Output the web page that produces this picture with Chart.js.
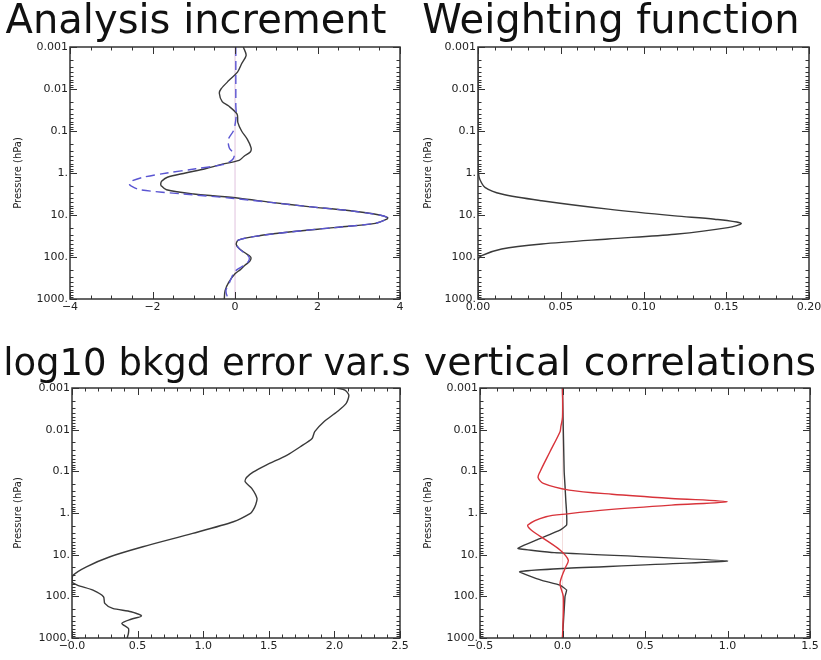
<!DOCTYPE html>
<html>
<head>
<meta charset="utf-8">
<script src="https://cdn.jsdelivr.net/npm/chart.js@4.4.1/dist/chart.umd.min.js"></script>
<style>
    body { margin: 0; background: #ffffff; width: 821px; height: 660px; overflow: hidden; position: relative; }
    .panel { position: absolute; }
</style>
</head>
<body>
<div class="panel" style="left:0px;top:0px"><canvas id="cIncremento" width="412" height="320"></canvas></div>
<div class="panel" style="left:410px;top:0px"><canvas id="cPeso" width="411" height="320"></canvas></div>
<div class="panel" style="left:0px;top:341px"><canvas id="cError" width="414" height="319"></canvas></div>
<div class="panel" style="left:410px;top:341px"><canvas id="cCorrelacion" width="411" height="319"></canvas></div>
<script>
// Eje de presion (comun a los 4 paneles)
const yTicks = [0.001, 0.01, 0.1, 1, 10, 100, 1000];
const yTickLabels = ['0.001', '0.01', '0.1', '1.', '10.', '100.', '1000.'];

// Panel 1: Analysis increment
const incPresion = [0.001, 0.00158, 0.00251, 0.00398, 0.00631, 0.01, 0.0126, 0.02, 0.0251, 0.0398,
    0.0631, 0.1, 0.158, 0.251, 0.316, 0.398, 0.501, 0.631, 0.794, 1,
    1.26, 1.58, 1.82, 2.0, 2.51, 3.16, 3.98, 5.01, 6.31, 7.94,
    10, 11.5, 12.6, 15.8, 20, 25.1, 31.6, 39.8, 50.1, 63.1,
    79.4, 100, 126, 158, 200, 251, 398, 631, 1000];
const incSolida = [0.20, 0.27, 0.16, 0.06, -0.15, -0.34, -0.38, -0.31, -0.16, 0.05,
    0.07, 0.16, 0.30, 0.39, 0.37, 0.22, 0.10, -0.35, -0.72, -1.20,
    -1.64, -1.78, -1.80, -1.79, -1.66, -1.00, 0.10, 0.88, 1.78, 2.80,
    3.50, 3.70, 3.68, 3.40, 2.39, 1.37, 0.55, 0.08, 0.03, 0.10,
    0.24, 0.38, 0.36, 0.24, 0.13, 0.00, -0.15, -0.24, -0.26];
const incDiscontinua = [0.02, 0.02, 0.02, 0.02, 0.02, 0.02, 0.02, 0.02, 0.02, 0.03,
    0.01, -0.04, -0.16, -0.14, -0.06, -0.02, -0.08, -0.30, -0.95, -1.65,
    -2.22, -2.52, -2.56, -2.53, -2.30, -1.25, -0.08, 0.85, 1.78, 2.80,
    3.50, 3.70, 3.68, 3.40, 2.39, 1.37, 0.55, 0.08, 0.04, 0.10,
    0.22, 0.34, 0.33, 0.22, 0.05, -0.04, -0.13, -0.22, -0.17];
const incXTicks = [-4, -2, 0, 2, 4];
const incXLabels = ['\u22124', '\u22122', '0', '2', '4'];

// Panel 2: Weighting function
const pesoPresion = [0.001, 0.631, 1, 1.38, 2.19, 3.16, 4.57, 7.24, 10.5, 12.6,
    15.8, 20, 28.8, 37.2, 49, 64.6, 93.3, 123, 1000];
const pesoValores = [0, 0, 0.0003, 0.001, 0.0042, 0.0143, 0.0385, 0.0787, 0.119, 0.143,
    0.159, 0.151, 0.119, 0.0787, 0.0385, 0.0143, 0.0022, 0, 0];
const pesoXTicks = [0, 0.05, 0.10, 0.15, 0.20];
const pesoXLabels = ['0.00', '0.05', '0.10', '0.15', '0.20'];

// Panel 3: log10 bkgd error var.s
const errPresion = [0.001, 0.00112, 0.00148, 0.00234, 0.00372, 0.00646, 0.0112, 0.0162, 0.0257, 0.0407,
    0.0708, 0.105, 0.141, 0.178, 0.257, 0.447, 0.631, 0.851, 1.02, 1.62,
    3.09, 6.46, 11.2, 19.5, 30.9, 44.7, 53.7, 70.8, 102, 148,
    195, 234, 295, 355, 447, 589, 776, 1000];
const errValores = [2.02, 2.08, 2.11, 2.09, 2.02, 1.92, 1.85, 1.83, 1.74, 1.64,
    1.48, 1.38, 1.33, 1.32, 1.37, 1.41, 1.40, 1.38, 1.36, 1.23,
    0.92, 0.54, 0.29, 0.11, 0.01, 0.00, 0.04, 0.16, 0.24, 0.25,
    0.31, 0.45, 0.53, 0.45, 0.38, 0.43, 0.43, 0.42];
const errXTicks = [0, 0.5, 1.0, 1.5, 2.0, 2.5];
const errXLabels = ['\u22120.0', '0.5', '1.0', '1.5', '2.0', '2.5'];

// Panel 4: vertical correlations
const corrNegroPresion = [0.001, 0.1, 0.214, 0.5, 1.0, 1.95, 2.57, 4.47, 7.08, 8.91,
    14.1, 21.4, 25.7, 40.7, 53.7, 70.8, 102, 1000];
const corrNegro = [0.0, 0.01, 0.015, 0.02, 0.025, 0.025, -0.015, -0.16, -0.27, -0.05,
    1.0, 0.0, -0.26, -0.13, -0.015, 0.025, 0.015, 0.0];
const corrRojoPresion = [0.001, 0.005, 0.0085, 0.0112, 0.0339, 0.102, 0.141, 0.195, 0.282, 0.355,
    0.447, 0.537, 0.646, 0.832, 1.05, 1.23, 1.95, 2.57, 4.47, 7.76,
    13.5, 21.4, 49, 102, 1000];
const corrRojo = [0.0, 0.0, -0.01, -0.015, -0.076, -0.136, -0.148, -0.116, 0.04, 0.30,
    0.66, 1.0, 0.66, 0.28, 0.03, -0.10, -0.21, -0.19, -0.10, -0.015,
    0.035, 0.015, -0.015, 0.005, 0.0];
const corrXTicks = [-0.5, 0.0, 0.5, 1.0, 1.5];
const corrXLabels = ['\u22120.5', '0.0', '0.5', '1.0', '1.5'];

const lineaCero = [0, 0];
const presionExtremos = [0.001, 1000];

Chart.defaults.font.family = "'DejaVu Sans', sans-serif";
Chart.defaults.color = '#222';

// Marco y marcas de estilo IDL (hacia dentro, en los 4 lados)
const marcoIDL = {
    id: 'marcoIDL',
    defaults: { mayor: 1, menor: 0.5 },
    afterDatasetsDraw(chart, args, opts) {
        const { ctx, chartArea: a, scales: { x, y } } = chart;
        ctx.save();
        ctx.strokeStyle = '#333';
        ctx.lineWidth = 1;
        ctx.beginPath();
        const n = Math.round((x.max - x.min) / opts.menor);
        for (let i = 0; i <= n; i++) {
            const v = x.min + i * opts.menor;
            const px = Math.round(x.getPixelForValue(v)) + 0.5;
            const r = v / opts.mayor;
            const largo = Math.abs(r - Math.round(r)) < 1e-6 ? 7 : 3.5;
            ctx.moveTo(px, a.bottom); ctx.lineTo(px, a.bottom - largo);
            ctx.moveTo(px, a.top); ctx.lineTo(px, a.top + largo);
        }
        yTicks.forEach((dec, k) => {
            for (let m = 1; m <= 9; m++) {
                if (k === yTicks.length - 1 && m > 1) break;
                const py = Math.round(y.getPixelForValue(dec * m)) + 0.5;
                const largo = m === 1 ? 7 : 3.5;
                ctx.moveTo(a.left, py); ctx.lineTo(a.left + largo, py);
                ctx.moveTo(a.right, py); ctx.lineTo(a.right - largo, py);
            }
        });
        ctx.stroke();
        ctx.lineWidth = 1.5;
        ctx.strokeRect(a.left, a.top, a.right - a.left, a.bottom - a.top);
        ctx.restore();
    }
};

function serie(presion, valores, color, extra = {}) {
    return Object.assign({
        data: presion.map((p, i) => ({ x: valores[i], y: p })),
        showLine: true,
        borderColor: color,
        borderWidth: 1.4,
        pointRadius: 0,
        tension: 0.3,
        fill: false
    }, extra);
}

// izq: padding izquierdo del layout (mueve el centro del titulo); bordeIzq: x del area de datos
// ejeDerecho: eje vacio a la derecha para que el titulo pueda pasar del borde del grafico
function crearPanel(canvasId, cfg) {
    const ctx = document.getElementById(canvasId).getContext('2d');
    const escalas = {
        x: {
            type: 'linear',
            min: cfg.xMin,
            max: cfg.xMax,
            grid: { display: false, drawTicks: false },
            border: { display: false },
            afterBuildTicks: s => { s.ticks = cfg.xTicks.map(v => ({ value: v })); },
            afterFit: s => { s.height = cfg.altoX; s.paddingLeft = 0; s.paddingRight = 0; },
            ticks: {
                callback: (v, i) => cfg.xLabels[i],
                padding: 2,
                maxRotation: 0,
                autoSkip: false,
                font: { size: 11 }
            }
        },
        y: {
            type: 'logarithmic',
            reverse: true,
            min: 0.001,
            max: 1000,
            grid: { display: false, drawTicks: false },
            border: { display: false },
            afterBuildTicks: s => { s.ticks = yTicks.map(v => ({ value: v })); },
            afterFit: s => { s.width = cfg.bordeIzq - cfg.izq; s.paddingTop = 0; s.paddingBottom = 0; },
            ticks: {
                callback: (v, i) => yTickLabels[i],
                padding: 2,
                autoSkip: false,
                font: { size: 11 }
            },
            title: {
                display: true,
                text: 'Pressure (hPa)',
                font: { size: 10 },
                padding: { top: 12 - cfg.izq, bottom: 0 }
            }
        }
    };
    if (cfg.ejeDerecho) {
        escalas.relleno = {
            type: 'linear',
            position: 'right',
            min: 0,
            max: 1,
            grid: { display: false, drawTicks: false },
            border: { display: false },
            ticks: { display: false },
            afterFit: s => { s.width = cfg.ejeDerecho; s.paddingTop = 0; s.paddingBottom = 0; }
        };
    }
    return new Chart(ctx, {
        type: 'scatter',
        data: { datasets: cfg.series },
        options: {
            responsive: false,
            animation: false,
            devicePixelRatio: 1,
            layout: { padding: { left: cfg.izq, right: cfg.derecha, top: 0, bottom: 0 } },
            plugins: {
                legend: { display: false },
                tooltip: { enabled: false },
                title: {
                    display: true,
                    text: cfg.titulo,
                    color: '#111',
                    font: { size: cfg.tamTitulo, weight: 'normal', lineHeight: 1.1 },
                    padding: { top: 47 - cfg.tamTitulo * 1.1 - 2, bottom: 2 }
                },
                marcoIDL: { mayor: cfg.xMayor, menor: cfg.xMenor }
            },
            scales: escalas
        },
        plugins: [marcoIDL]
    });
}

crearPanel('cIncremento', {
    titulo: 'Analysis increment', tamTitulo: 40,
    series: [
        serie(incPresion, incDiscontinua, '#5a55d2', { borderDash: [9, 5] }),
        serie(incPresion, incSolida, '#3a3a3a'),
        serie(presionExtremos, lineaCero, '#eddcec', { borderWidth: 1, tension: 0 })
    ],
    xMin: -4, xMax: 4, xTicks: incXTicks, xLabels: incXLabels, xMayor: 2, xMenor: 0.5,
    izq: -8, bordeIzq: 70, derecha: 12, altoX: 21
});

crearPanel('cPeso', {
    titulo: 'Weighting function', tamTitulo: 40,
    series: [serie(pesoPresion, pesoValores, '#3a3a3a')],
    xMin: 0, xMax: 0.2, xTicks: pesoXTicks, xLabels: pesoXLabels, xMayor: 0.05, xMenor: 0.01,
    izq: 3, bordeIzq: 68, derecha: 12, altoX: 21
});

crearPanel('cError', {
    titulo: 'log10 bkgd error var.s', tamTitulo: 37,
    series: [serie(errPresion, errValores, '#3a3a3a', { tension: 0.25 })],
    xMin: 0, xMax: 2.5, xTicks: errXTicks, xLabels: errXLabels, xMayor: 0.5, xMenor: 0.1,
    izq: 0, bordeIzq: 72, derecha: 0, ejeDerecho: 14, altoX: 22
});

crearPanel('cCorrelacion', {
    titulo: 'vertical correlations', tamTitulo: 39.5,
    series: [
        serie(corrRojoPresion, corrRojo, '#d8333a', { tension: 0.3 }),
        serie(corrNegroPresion, corrNegro, '#3a3a3a', { tension: 0.1 }),
        serie(presionExtremos, lineaCero, '#f4dede', { borderWidth: 1, tension: 0 })
    ],
    xMin: -0.5, xMax: 1.5, xTicks: corrXTicks, xLabels: corrXLabels, xMayor: 0.5, xMenor: 0.1,
    izq: 9, bordeIzq: 70, derecha: 0, ejeDerecho: 11, altoX: 22
});
</script>
</body>
</html>
